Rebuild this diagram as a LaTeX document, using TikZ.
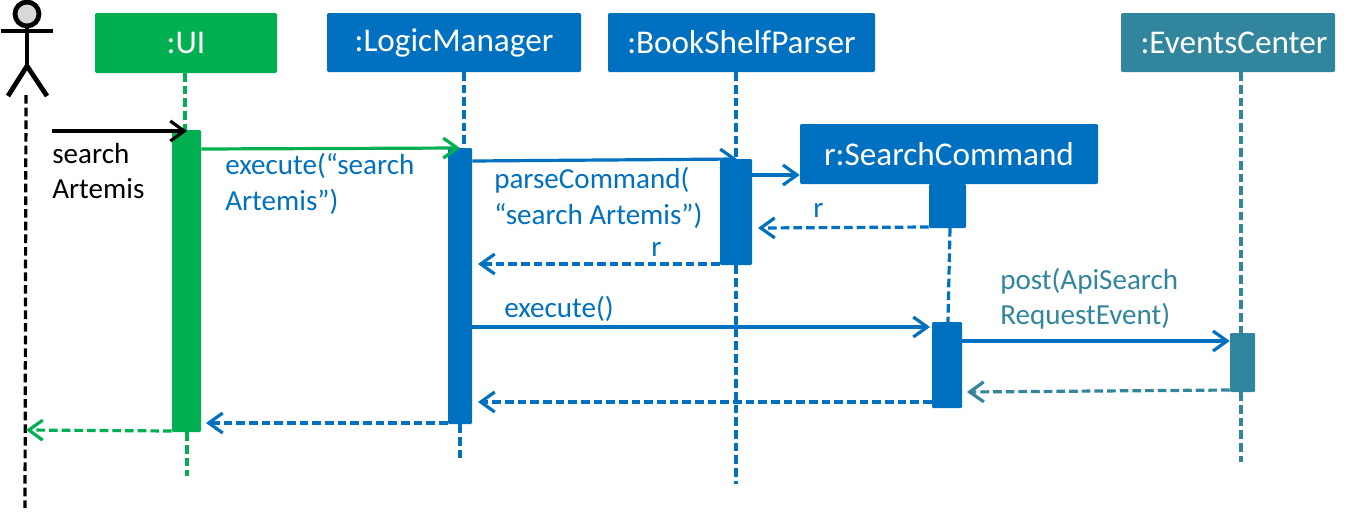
\documentclass[tikz,border=0pt]{standalone}
\usepackage{fontspec}
\setmainfont{Carlito}
\usetikzlibrary{arrows.meta}
\definecolor{uigreen}{HTML}{00B050}
\definecolor{logicblue}{HTML}{0070C0}
\definecolor{evteal}{HTML}{31859C}
\definecolor{headgrey}{HTML}{D9D9D9}
\tikzset{
  x=0.75pt,y=-0.75pt,
  headbox/.style={fill=#1,text=white,inner sep=0pt,rounded corners=1pt,font=\fontsize{24.9}{28}\selectfont},
  actbox/.style={fill=#1,inner sep=0pt,rounded corners=0.8pt},
  life/.style={draw=#1,line width=2.4pt,dash pattern=on 6.5pt off 3pt},
  msg/.style={draw=#1,line width=2.4pt,-{Straight Barb[length=10.5pt,width=15pt,line width=2.4pt]}},
  ret/.style={msg=#1,dash pattern=on 6.5pt off 3pt},
  lbl/.style={text=#1,inner sep=0pt,align=left,anchor=west,font=\fontsize{21.8}{26.5}\selectfont},
  stick/.style={draw=black,line width=3.6pt},
}
\newcommand{\boxat}[6]{\node[#1,minimum width=#4*0.75pt-#2*0.75pt,minimum height=#5*0.75pt-#3*0.75pt] (#6) at ({(#2+#4)/2},{(#3+#5)/2})}
\begin{document}
\begin{tikzpicture}
\useasboundingbox (0,0) rectangle (1349,511);
\coordinate (actorTop) at (26,95);
\coordinate (actorEnd) at (25,508);
\coordinate (uiEnd) at (187,476);
\coordinate (logicEnd) at (460,462);
\coordinate (parserEnd) at (736,484);
\coordinate (eventsEnd) at (1241,462);
\coordinate (cmdStart) at (52,131);
% heads
\boxat{headbox=uigreen}{95}{13}{277}{73}{ui} {\raisebox{-1pt}{:UI}};
\boxat{headbox=logicblue}{327}{13}{581}{72}{logic} {\raisebox{-1pt}{:LogicManager}};
\boxat{headbox=logicblue}{608}{13}{875}{72}{parser} {\raisebox{-1pt}{:BookShelfParser}};
\boxat{headbox=evteal}{1121}{13}{1335}{72}{events} {\hspace{9pt}\raisebox{-1pt}{:EventsCenter}};
\boxat{headbox=logicblue}{800}{124}{1098}{184}{search} {\raisebox{-1pt}{r:SearchCommand}};
% activations
\boxat{actbox=uigreen}{172}{130}{201}{432}{aui} {};
\boxat{actbox=logicblue}{448}{148}{472}{424}{alogic} {};
\boxat{actbox=logicblue}{720}{159}{752}{265}{aparser} {};
\boxat{actbox=logicblue}{929}{184}{966}{228}{asearchA} {};
\boxat{actbox=logicblue}{932}{322}{962}{408}{asearchB} {};
\boxat{actbox=evteal}{1230}{333}{1255}{392}{aevents} {};
% lifelines
\draw[life=black] (actorTop) -- (actorEnd);
\draw[life=uigreen] (185,73) -- (185,130);
\draw[life=uigreen] (aui.south -| uiEnd) -- (uiEnd);
\draw[life=logicblue] (464,72) -- (464,148);
\draw[life=logicblue] (alogic.south -| logicEnd) -- (logicEnd);
\draw[life=logicblue] (parser.south -| parserEnd) -- (aparser.north -| parserEnd);
\draw[life=logicblue] (aparser.south -| parserEnd) -- (parserEnd);
\draw[life=logicblue] (950,228) -- (948,322);
\draw[life=evteal] (events.south -| eventsEnd) -- (aevents.north -| eventsEnd);
\draw[life=evteal] (aevents.south -| eventsEnd) -- (eventsEnd);
% messages
\draw[msg=black] (cmdStart) -- (187,131);
\draw[msg=uigreen] (aui.east |- 0,149) -- (460,148);
\draw[msg=logicblue] (alogic.east |- 0,161) -- (737,159);
\draw[msg=logicblue] (aparser.east |- 0,175) -- (search.west |- 0,175);
\draw[ret=logicblue] (asearchA.west |- 0,227) -- (758,228);
\draw[ret=logicblue] (aparser.west |- 0,264) -- (478,264);
\draw[msg=logicblue] (alogic.east |- 0,327) -- (930,327);
\draw[msg=logicblue] (asearchB.east |- 0,341) -- (aevents.west |- 0,341);
\draw[ret=evteal] (aevents.west |- 0,390) -- (967,392);
\draw[ret=logicblue] (asearchB.west |- 0,402) -- (478,402);
\draw[ret=logicblue] (alogic.west |- 0,423) -- (206,423);
\draw[ret=uigreen] (aui.west |- 0,431) -- (26,430);
% labels
\node[lbl=black] (l1) at (52,171) {search\\Artemis};
\node[lbl=logicblue] (l2) at (225,184) {execute(“search\\Artemis”)};
\node[lbl=logicblue] (l3) at (494,198) {parseCommand(\\“search Artemis”)};
\node[lbl=logicblue] (l4) at (651,249) {r};
\node[lbl=logicblue] (l5) at (813,210) {r};
\node[lbl=logicblue] (l6) at (504,309) {execute()};
\node[lbl=evteal] (l7) at (1000,299) {post(ApiSearch\\RequestEvent)};
% actor
\draw[stick,fill=headgrey] (27,14) circle (12);
\draw[stick] (1,31) -- (53,31);
\draw[stick] (27,26) -- (27,66);
\draw[stick,line join=miter] (8,96) -- (27,66) -- (47,96);
\end{tikzpicture}
\end{document}
